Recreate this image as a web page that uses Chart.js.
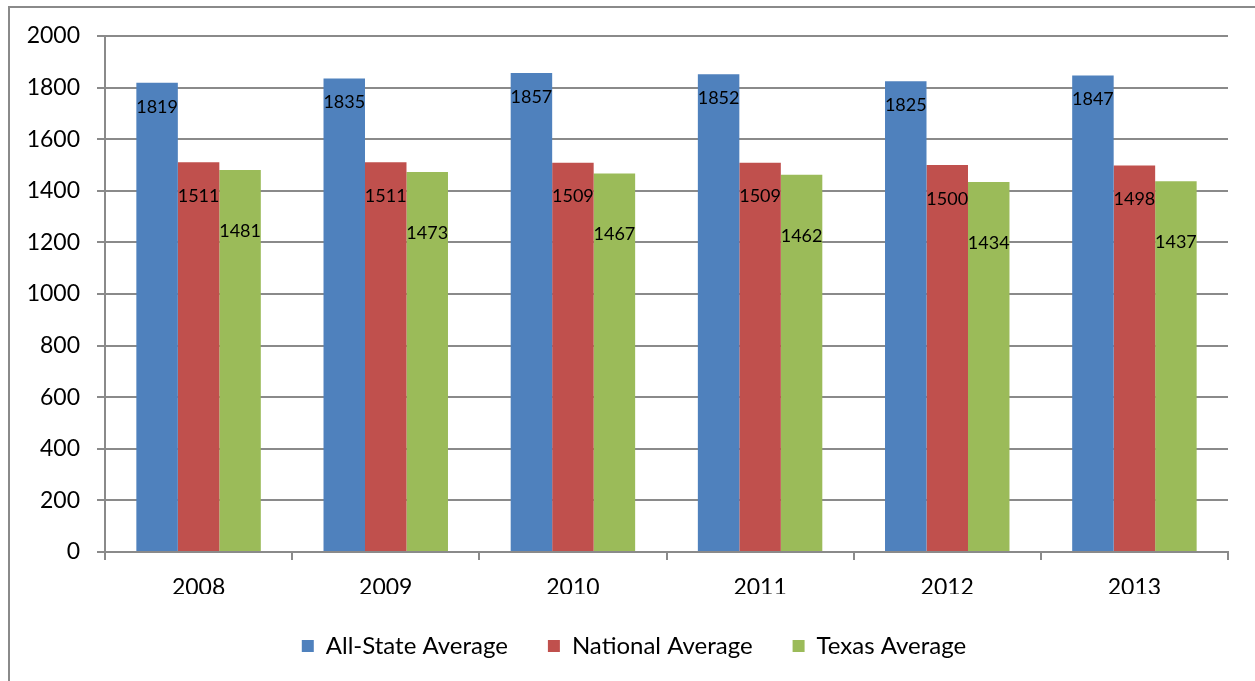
<!DOCTYPE html>
<html>
<head>
<meta charset="utf-8">
<script src="https://cdn.jsdelivr.net/npm/chart.js@4/dist/chart.umd.min.js"></script>
<style>
  html, body { margin: 0; padding: 0; background: #fff; }
  #wrap { width: 1255px; height: 681px; position: relative; }
</style>
</head>
<body>
<div id="wrap"><canvas id="barChart"></canvas></div>
<script>
const years = ['2008', '2009', '2010', '2011', '2012', '2013'];
const allState = [1819, 1835, 1857, 1852, 1825, 1847];
const national = [1511, 1511, 1509, 1509, 1500, 1498];
const texas = [1481, 1473, 1467, 1462, 1434, 1437];

const gray = '#8a8a8a';
const font = 'Lato';

// value labels under the top of each bar
const valueLabels = {
    id: 'valueLabels',
    afterDatasetsDraw(chart) {
        const ctx = chart.ctx;
        ctx.save();
        ctx.font = '18px ' + font;
        ctx.fillStyle = '#000';
        ctx.textAlign = 'center';
        ctx.textBaseline = 'middle';
        chart.data.datasets.forEach((ds, i) => {
            chart.getDatasetMeta(i).data.forEach((bar, j) => {
                ctx.fillText(ds.data[j], bar.x, bar.y + ds.labelOffset);
            });
        });
        ctx.restore();
    }
};

// outer chart frame (left and top edges visible)
const frame = {
    id: 'frame',
    beforeDraw(chart) {
        const ctx = chart.ctx;
        ctx.save();
        ctx.strokeStyle = gray;
        ctx.lineWidth = 2;
        ctx.beginPath();
        ctx.moveTo(9, 700);
        ctx.lineTo(9, 7);
        ctx.lineTo(1260, 7);
        ctx.stroke();
        ctx.restore();
    }
};

// centre the legend on the whole frame rather than the canvas
const legendShift = {
    id: 'legendShift',
    afterLayout(chart) {
        chart.legend.left = 40;
        chart.legend.right = 1228;
    }
};

const myChart = new Chart(document.getElementById('barChart'), {
    type: 'bar',
    data: {
        labels: years,
        datasets: [{
            label: 'All-State Average',
            data: allState,
            backgroundColor: '#4F81BD',
            labelOffset: 24
        }, {
            label: 'National Average',
            data: national,
            backgroundColor: '#C0504D',
            labelOffset: 34
        }, {
            label: 'Texas Average',
            data: texas,
            backgroundColor: '#9BBB59',
            labelOffset: 61
        }]
    },
    options: {
        responsive: true,
        maintainAspectRatio: false,
        animation: false,
        categoryPercentage: 0.665,
        barPercentage: 1,
        layout: {
            padding: { left: 0, right: 27, top: 36, bottom: 13 }
        },
        plugins: {
            tooltip: { enabled: false },
            legend: {
                position: 'bottom',
                labels: {
                    font: { family: font, size: 24 },
                    color: '#000',
                    boxWidth: 12,
                    boxHeight: 12,
                    padding: 40
                }
            }
        },
        scales: {
            x: {
                afterFit(scale) { scale.height = 42; },
                grid: {
                    drawOnChartArea: false,
                    drawTicks: true,
                    tickLength: 8,
                    color: gray,
                    lineWidth: 2
                },
                border: { color: gray, width: 2 },
                ticks: {
                    font: { family: font, size: 23 },
                    color: '#000',
                    padding: 14
                }
            },
            y: {
                min: 0,
                max: 2000,
                afterFit(scale) { scale.width = 105; },
                grid: {
                    color: gray,
                    lineWidth: 2,
                    tickLength: 8
                },
                border: { color: gray, width: 2 },
                ticks: {
                    stepSize: 200,
                    callback: (v) => String(v),
                    font: { family: font, size: 23 },
                    color: '#000',
                    padding: 17
                }
            }
        }
    },
    plugins: [frame, legendShift, valueLabels]
});
</script>
</body>
</html>
